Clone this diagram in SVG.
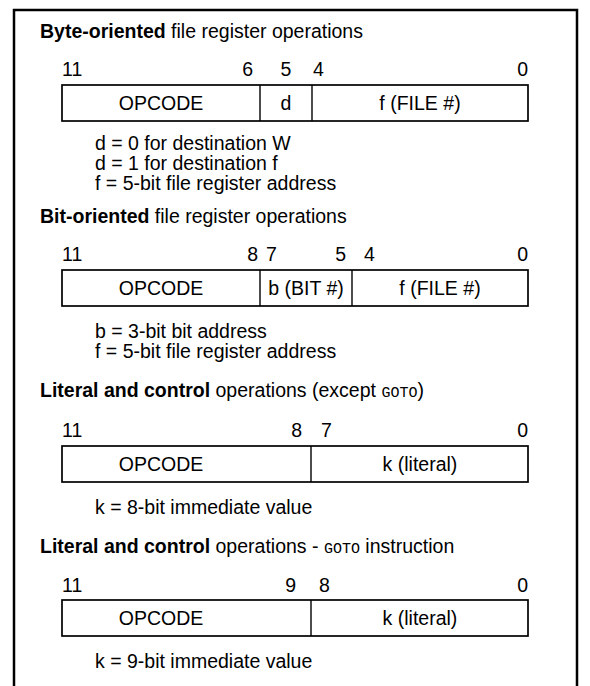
<svg xmlns="http://www.w3.org/2000/svg" width="590" height="686" viewBox="0 0 590 686">
<style>
text{font-family:"Liberation Sans",Arial,sans-serif;font-size:19.5px;fill:#000}
.b{font-weight:bold}
.m{font-family:"Liberation Mono","Courier New",monospace;font-size:15px}
.e{text-anchor:end}
.c{text-anchor:middle}
.box{fill:#fff;stroke:#000;stroke-width:1.7}
.div{stroke:#000;stroke-width:1.4}
</style>
<rect width="590" height="686" fill="#fff"/>
<path d="M14,690 V10 H577 V690" fill="none" stroke="#000" stroke-width="2.5"/>
<g id="byte">
<text x="40" y="38"><tspan class="b">Byte-oriented</tspan> file register operations</text>
<text x="62" y="76">11</text>
<text x="253" y="76" class="e">6</text>
<text x="286" y="76" class="c">5</text>
<text x="313" y="76">4</text>
<text x="528" y="76" class="e">0</text>
<rect class="box" x="62" y="85" width="466" height="36"/>
<line class="div" x1="260" y1="85" x2="260" y2="121"/>
<line class="div" x1="312" y1="85" x2="312" y2="121"/>
<text x="161" y="110" class="c">OPCODE</text>
<text x="286" y="110" class="c">d</text>
<text x="420" y="110" class="c">f (FILE #)</text>
<text x="95" y="150">d = 0 for destination W</text>
<text x="95" y="170">d = 1 for destination f</text>
<text x="95" y="190">f = 5-bit file register address</text>
</g>
<g id="bit">
<text x="40" y="223"><tspan class="b">Bit-oriented</tspan> file register operations</text>
<text x="62" y="261">11</text>
<text x="258" y="261" class="e">8</text>
<text x="266" y="261">7</text>
<text x="346" y="261" class="e">5</text>
<text x="364" y="261">4</text>
<text x="528" y="261" class="e">0</text>
<rect class="box" x="62" y="270" width="466" height="36"/>
<line class="div" x1="260" y1="270" x2="260" y2="306"/>
<line class="div" x1="352" y1="270" x2="352" y2="306"/>
<text x="161" y="295" class="c">OPCODE</text>
<text x="306" y="295" class="c">b (BIT #)</text>
<text x="440" y="295" class="c">f (FILE #)</text>
<text x="95" y="338">b = 3-bit bit address</text>
<text x="95" y="358">f  = 5-bit file register address</text>
</g>
<g id="literal">
<text x="40" y="397"><tspan class="b">Literal and control</tspan> operations (except <tspan class="m">GOTO</tspan>)</text>
<text x="62" y="437">11</text>
<text x="302" y="437" class="e">8</text>
<text x="321" y="437">7</text>
<text x="528" y="437" class="e">0</text>
<rect class="box" x="62" y="446" width="466" height="36"/>
<line class="div" x1="311" y1="446" x2="311" y2="482"/>
<text x="161" y="471" class="c">OPCODE</text>
<text x="420" y="471" class="c">k (literal)</text>
<text x="95" y="514">k  = 8-bit immediate value</text>
</g>
<g id="goto">
<text x="40" y="553"><tspan class="b">Literal and control</tspan> operations - <tspan class="m">GOTO</tspan> instruction</text>
<text x="62" y="592">11</text>
<text x="296" y="592" class="e">9</text>
<text x="319" y="592">8</text>
<text x="528" y="592" class="e">0</text>
<rect class="box" x="62" y="600" width="466" height="36"/>
<line class="div" x1="311" y1="600" x2="311" y2="636"/>
<text x="161" y="625" class="c">OPCODE</text>
<text x="420" y="625" class="c">k (literal)</text>
<text x="95" y="668">k  = 9-bit immediate value</text>
</g>
<g id="connectors"/>
</svg>
